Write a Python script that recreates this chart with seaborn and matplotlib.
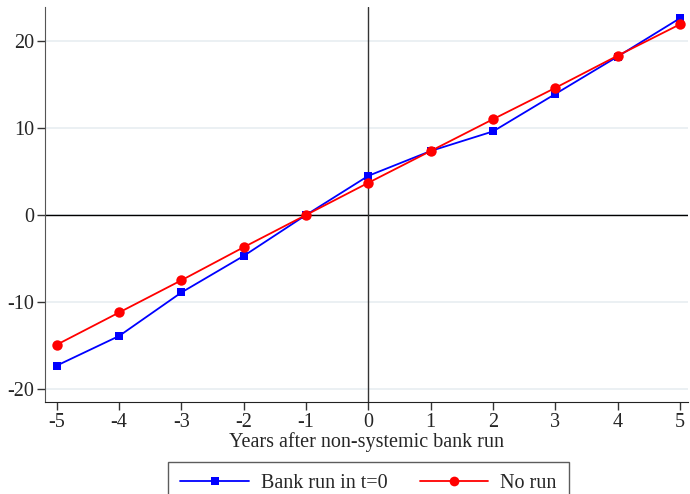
import matplotlib
matplotlib.use("Agg")
import matplotlib.pyplot as plt
import seaborn as sns
import pandas as pd

years = [-5, -4, -3, -2, -1, 0, 1, 2, 3, 4, 5]
bank_run = [-17.3, -13.9, -8.9, -4.7, 0.0, 4.5, 7.35, 9.6, 13.9, 18.2, 22.6]
no_run = [-14.9, -11.2, -7.5, -3.7, 0.0, 3.7, 7.35, 11.0, 14.6, 18.3, 21.9]
series_names = ["Bank run in t=0", "No run"]
y_ticks = [-20, -10, 0, 10, 20]

df = pd.concat([
    pd.DataFrame({"year": years, "value": bank_run, "series": series_names[0]}),
    pd.DataFrame({"year": years, "value": no_run, "series": series_names[1]}),
])

sns.set_style("white")
plt.rcParams["font.family"] = ["Liberation Serif", "DejaVu Serif"]
FS = 14.5

fig = plt.figure(figsize=(6.9, 4.94), dpi=100)
ax = fig.add_axes([0.0652, 0.186, 0.932, 0.80])

for yt in y_ticks:
    ax.axhline(yt, color="#e8eef1", lw=1.2, zorder=0)
ax.axhline(0, color="black", lw=1.0, zorder=1)
ax.axvline(0, color="#333333", lw=1.0, zorder=1)

sns.lineplot(data=df, x="year", y="value", hue="series", style="series",
             palette={series_names[0]: "#0000ff", series_names[1]: "#ff0000"},
             markers={series_names[0]: "s", series_names[1]: "o"},
             dashes=False, markersize=7, markeredgewidth=0, lw=1.3, ax=ax,
             zorder=3)

# square markers a bit smaller than the round ones
for line in ax.lines:
    if line.get_marker() == "s":
        line.set_markersize(6)
    elif line.get_marker() == "o":
        line.set_markersize(7.5)

ax.set_xlim(-5.19, 5.13)
ax.set_ylim(-21.5, 23.9)
ax.set_xticks(years)
ax.set_xticklabels([str(v) for v in years])
ax.set_yticks(y_ticks)
ax.set_yticklabels([str(v) for v in y_ticks])
ax.tick_params(axis="both", labelsize=FS, length=6, width=1, direction="out",
               color="#333333", left=True, bottom=True, pad=2)
for s in ["top", "right"]:
    ax.spines[s].set_visible(False)
ax.spines["left"].set_color("#555555")
ax.spines["bottom"].set_color("#222222")
ax.set_xlabel("Years after non-systemic bank run", fontsize=FS, labelpad=0)
ax.set_ylabel("")

handles, labels = ax.get_legend_handles_labels()
ax.get_legend().remove()
for h in handles:
    if h.get_marker() == "s":
        h.set_markersize(5.5)
    elif h.get_marker() == "o":
        h.set_markersize(7)
leg = fig.legend(handles, labels, loc="upper center", bbox_to_anchor=(0.534, 0.0648),
                 ncol=2, fontsize=FS, frameon=True, fancybox=False,
                 edgecolor="#333333", handlelength=3.4, handletextpad=0.6,
                 columnspacing=1.6, borderpad=0.6, borderaxespad=0)
leg.get_frame().set_linewidth(1.0)

fig.savefig("out.png", dpi=100)
